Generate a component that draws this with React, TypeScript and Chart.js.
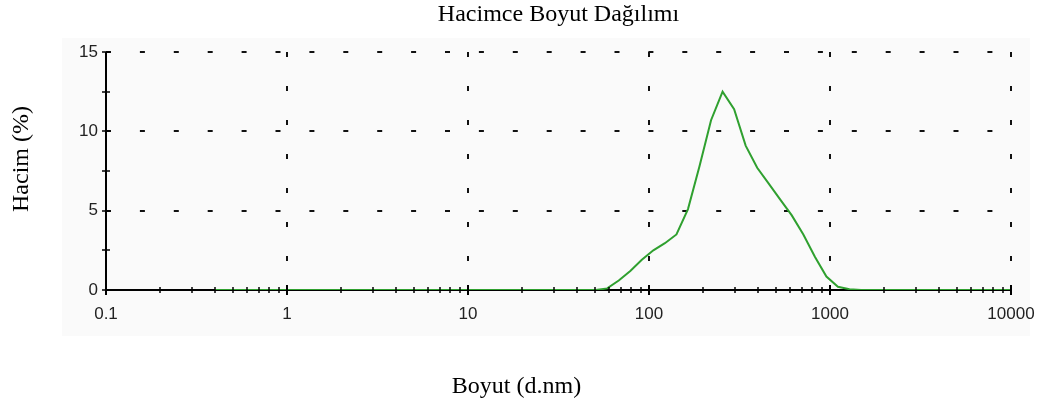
import { useEffect, useRef } from 'react';
import { Chart, registerables } from 'chart.js';

Chart.register(...registerables);

// Size bins (d.nm)
const sizes = [
  0.4, 0.4632, 0.5365, 0.6213, 0.7195, 0.8332, 0.9649, 1.117, 1.294, 1.499,
  1.736, 2.01, 2.328, 2.696, 3.122, 3.615, 4.187, 4.849, 5.615, 6.503,
  7.531, 8.721, 10.1, 11.7, 13.54, 15.69, 18.17, 21.04, 24.36, 28.21,
  32.67, 37.84, 43.82, 50.75, 58.77, 68.06, 78.82, 91.28, 105.7, 122.4,
  141.8, 164.2, 190.1, 220.2, 255, 295.3, 342, 396.1, 458.7, 531.2,
  615.1, 712.4, 825, 955.4, 1106, 1281, 1484, 1718, 1990, 2305,
  2669, 3091, 3580, 4145, 4801, 5560, 6439, 7456, 8635, 10000,
];

// Volume (%)
const volume = [
  0, 0, 0, 0, 0, 0, 0, 0, 0, 0,
  0, 0, 0, 0, 0, 0, 0, 0, 0, 0,
  0, 0, 0, 0, 0, 0, 0, 0, 0, 0,
  0, 0, 0, 0, 0.1, 0.6, 1.2, 1.9, 2.5, 2.95,
  3.5, 5.1, 7.8, 10.7, 12.5, 11.4, 9.1, 7.7, 6.7, 5.7,
  4.7, 3.5, 2.1, 0.85, 0.2, 0.05, 0, 0, 0, 0,
  0, 0, 0, 0, 0, 0, 0, 0, 0, 0,
];

const xTickValues = [0.1, 1, 10, 100, 1000, 10000];
const xTickLabels = ['0.1', '1', '10', '100', '1000', '10000'];
const xMinorMultipliers = [2, 3, 4, 5, 6, 7, 8, 9];
const yTickValues = [0, 5, 10, 15];
const yTickLabels = ['0', '5', '10', '15'];
const yMinorValues = [2.5, 7.5, 12.5];

const titleText = 'Hacimce Boyut Dağılımı';
const xTitleText = 'Boyut (d.nm)';
const yTitleText = 'Hacim (%)';

const decorPlugin = {
  id: 'decor',
  beforeDraw(chart: any) {
    const { ctx, width, height } = chart;
    ctx.save();
    ctx.fillStyle = '#ffffff';
    ctx.fillRect(0, 0, width, height);
    ctx.fillStyle = '#fafafa';
    ctx.fillRect(62, 38, 968, 298);
    ctx.restore();
  },
  beforeDatasetsDraw(chart: any) {
    const { ctx, chartArea: a, scales } = chart;
    const x = scales.x;
    const y = scales.y;
    ctx.save();
    ctx.strokeStyle = '#111';
    ctx.lineWidth = 2;
    ctx.setLineDash([5, 28.9]);
    for (const v of yTickValues.slice(1)) {
      const py = Math.round(y.getPixelForValue(v));
      ctx.beginPath();
      ctx.moveTo(a.left, py);
      ctx.lineTo(a.right, py);
      ctx.stroke();
    }
    ctx.setLineDash([5, 29]);
    for (const v of xTickValues.slice(1)) {
      const px = Math.round(x.getPixelForValue(v));
      ctx.beginPath();
      ctx.moveTo(px, a.top);
      ctx.lineTo(px, a.bottom);
      ctx.stroke();
    }
    ctx.setLineDash([]);
    ctx.strokeStyle = '#000';
    ctx.beginPath();
    ctx.moveTo(a.left, a.top);
    ctx.lineTo(a.left, a.bottom);
    ctx.lineTo(a.right, a.bottom);
    ctx.stroke();
    ctx.restore();
  },
  afterDatasetsDraw(chart: any) {
    const { ctx, chartArea: a, scales } = chart;
    const x = scales.x;
    const y = scales.y;
    ctx.save();
    ctx.strokeStyle = '#000';
    ctx.lineWidth = 1.5;
    for (const v of [...yTickValues, ...yMinorValues]) {
      const py = Math.round(y.getPixelForValue(v));
      ctx.beginPath();
      ctx.moveTo(a.left - 4, py);
      ctx.lineTo(a.left + 4, py);
      ctx.stroke();
    }
    const by = Math.round(a.bottom);
    for (let i = 0; i < xTickValues.length; i++) {
      const d = xTickValues[i];
      ctx.lineWidth = 2;
      const px = Math.round(x.getPixelForValue(d));
      ctx.beginPath();
      ctx.moveTo(px, by - 5);
      ctx.lineTo(px, by + 5);
      ctx.stroke();
      if (i < xTickValues.length - 1) {
        ctx.lineWidth = 1.5;
        for (const m of xMinorMultipliers) {
          const mx = Math.round(x.getPixelForValue(d * m));
          ctx.beginPath();
          ctx.moveTo(mx, by - 3);
          ctx.lineTo(mx, by + 3);
          ctx.stroke();
        }
      }
    }
    ctx.restore();
  },
  afterDraw(chart: any) {
    const { ctx, chartArea: a, width } = chart;
    ctx.save();
    ctx.fillStyle = '#000';
    ctx.font = '24px "Liberation Serif", "Times New Roman", serif';
    ctx.textBaseline = 'alphabetic';
    ctx.textAlign = 'center';
    ctx.fillText(titleText, (a.left + a.right) / 2, 20.5);
    ctx.fillText(xTitleText, width / 2 - 5, 392.5);
    ctx.translate(28, (a.top + a.bottom) / 2 - 12);
    ctx.rotate(-Math.PI / 2);
    ctx.fillText(yTitleText, 0, 0);
    ctx.restore();
  },
};

export default function App() {
  const ref = useRef<HTMLCanvasElement | null>(null);

  useEffect(() => {
    document.body.style.margin = '0';
    const canvas = ref.current;
    if (!canvas) return;
    const tickFont = { family: '"Liberation Sans", Arial, sans-serif', size: 17 };
    const chart = new Chart(canvas, {
      type: 'line',
      data: {
        datasets: [
          {
            data: sizes.map((s, i) => ({ x: s, y: volume[i] })),
            borderColor: '#2fa02f',
            borderWidth: 2,
            pointRadius: 0,
            tension: 0,
            fill: false,
          },
        ],
      },
      options: {
        animation: false,
        responsive: false,
        devicePixelRatio: 1,
        layout: { padding: { left: 0, right: 32, top: 52, bottom: 0 } },
        plugins: {
          legend: { display: false },
          title: { display: false },
          tooltip: { enabled: false },
        },
        scales: {
          x: {
            type: 'logarithmic',
            min: 0.1,
            max: 10000,
            grid: { display: false, drawTicks: false },
            border: { display: false },
            afterBuildTicks: (scale: any) => {
              scale.ticks = xTickValues.map((v) => ({ value: v }));
            },
            afterFit: (scale: any) => {
              scale.height = 116;
              scale.paddingLeft = 0;
              scale.paddingRight = 0;
            },
            ticks: {
              autoSkip: false,
              maxRotation: 0,
              minRotation: 0,
              padding: 14,
              color: '#222',
              font: tickFont,
              callback: (_v: any, i: number) => xTickLabels[i],
            },
          },
          y: {
            type: 'linear',
            min: 0,
            max: 15,
            grid: { display: false, drawTicks: false },
            border: { display: false },
            afterBuildTicks: (scale: any) => {
              scale.ticks = yTickValues.map((v) => ({ value: v }));
            },
            afterFit: (scale: any) => {
              scale.width = 106;
              scale.paddingTop = 0;
              scale.paddingBottom = 0;
            },
            ticks: {
              autoSkip: false,
              padding: 8,
              color: '#222',
              font: tickFont,
              callback: (_v: any, i: number) => yTickLabels[i],
            },
          },
        },
      } as any,
      plugins: [decorPlugin],
    });
    return () => chart.destroy();
  }, []);

  return (
    <div style={{ width: 1043, height: 406 }}>
      <canvas ref={ref} width={1043} height={406} style={{ display: 'block' }} />
    </div>
  );
}
